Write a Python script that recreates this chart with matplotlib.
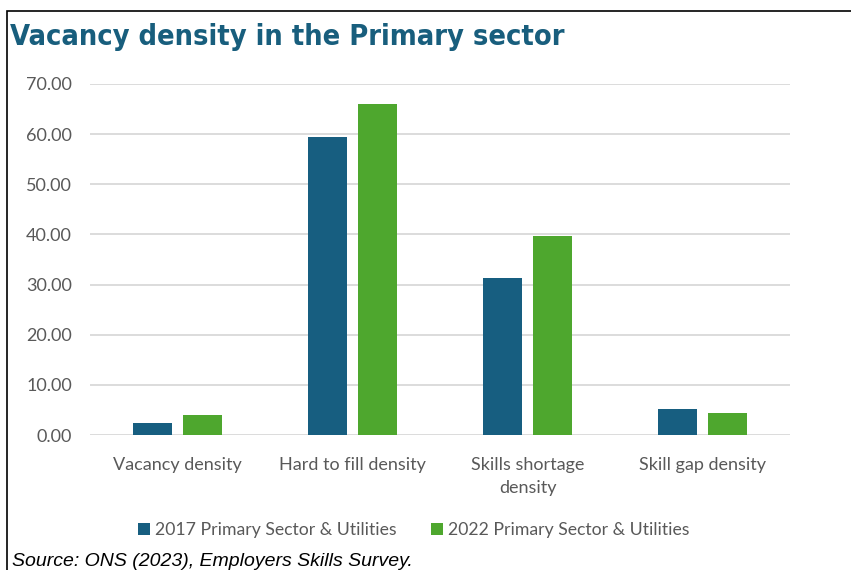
import numpy as np
import matplotlib.pyplot as plt
from matplotlib.patches import Rectangle

# Vacancy measures per category, two survey years
categories = ['Vacancy density', 'Hard to fill density', 'Skills shortage\ndensity', 'Skill gap density']
series_2017 = [2.45, 59.5, 31.3, 5.1]
series_2022 = [3.9, 66.1, 39.75, 4.4]
labels = ['2017 Primary Sector & Utilities', '2022 Primary Sector & Utilities']
yticks = [0, 10, 20, 30, 40, 50, 60, 70]

blue = '#175E80'
green = '#4EA72E'
grey = '#595959'
tick_font = 'Lato'

fig = plt.figure(figsize=(8.51, 5.70), dpi=100)
ax = fig.add_axes([90 / 851, 1 - 435 / 570, 700 / 851, 351 / 570])

x = np.arange(len(categories))
width = 0.228
offset = 0.143
ax.bar(x - offset, series_2017, width, color=blue, label=labels[0], zorder=3)
ax.bar(x + offset, series_2022, width, color=green, label=labels[1], zorder=3)

ax.set_xlim(-0.5, len(categories) - 0.5)
ax.set_ylim(0, 70)
ax.set_yticks(yticks)
ax.set_yticklabels([f'{v:.2f}' for v in yticks], fontsize=13, color=grey, family=tick_font)
ax.set_xticks(x)
ax.set_xticklabels(categories, fontsize=13, color=grey, family=tick_font, linespacing=1.55)
ax.tick_params(axis='both', length=0)
ax.tick_params(axis='y', pad=13)
ax.tick_params(axis='x', pad=16)
ax.grid(axis='y', color='#D9D9D9', linewidth=1.3, zorder=0)
for side in ['top', 'right', 'left', 'bottom']:
    ax.spines[side].set_visible(False)

# Title, legend and source note
fig.text(10 / 851, 1 - 37 / 570, 'Vacancy density in the Primary sector', fontsize=20.8,
         fontweight='bold', fontstretch='condensed', color='#185E7D', family='DejaVu Sans',
         va='center')
leg = fig.legend(loc='center', bbox_to_anchor=(414 / 851, 1 - 530 / 570), ncol=2, frameon=False,
                 handlelength=0.65, handleheight=0.65, handletextpad=0.3, columnspacing=1.95,
                 prop={'family': tick_font, 'size': 12.7})
for t in leg.get_texts():
    t.set_color(grey)
fig.text(12 / 851, 1 - 561 / 570, 'Source: ONS (2023), Employers Skills Survey.', fontsize=14,
         style='italic', color='black', family='Liberation Sans', va='center')

# Thin frame around the chart area
fig.add_artist(Rectangle((7 / 851, -0.05), 1.0, 1 - 11 / 570 + 0.05, transform=fig.transFigure,
                         fill=False, edgecolor='black', linewidth=1.2))

fig.savefig('out.png', dpi=100)
